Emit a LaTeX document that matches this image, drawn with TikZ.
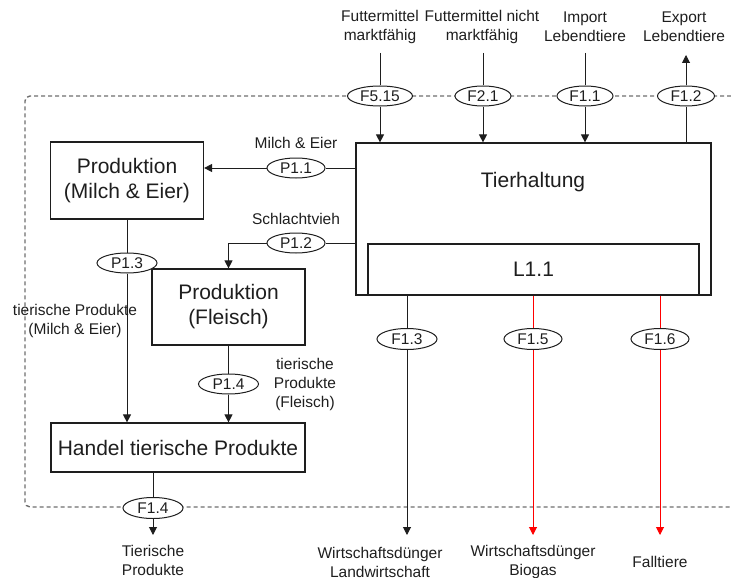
\documentclass[tikz,border=0pt]{standalone}
\usepackage{fontspec}
\setmainfont{Liberation Sans}
\usetikzlibrary{shapes.geometric,arrows.meta}

\definecolor{ink}{HTML}{1E1E1E}
\definecolor{bound}{HTML}{6E6E6E}
\newcommand{\boxfont}{\fontsize{21}{25}\selectfont}
\newcommand{\lblfont}{\fontsize{15.5}{19}\selectfont}

\begin{document}
\begin{tikzpicture}[x=1pt,y=-1pt,
  line/.style={draw=ink, line width=1pt},
  arr/.style={line, -{Triangle[length=8pt,width=8pt]}},
  redline/.style={draw=red, line width=1pt},
  redarr/.style={redline, -{Triangle[length=8pt,width=8pt]}},
  box/.style={draw=ink, line width=1.2pt, fill=white, inner sep=0pt,
    align=center, font=\boxfont, text=ink},
  flow/.style={ellipse, draw=ink, line width=1pt, fill=white, inner sep=0pt,
    minimum width=58pt, minimum height=20pt, font=\lblfont, text=ink},
  lab/.style={align=center, font=\lblfont, inner sep=0pt, text=ink},
  boundary/.style={draw=bound, line width=1.4pt, dash pattern=on 4pt off 3pt,
    rounded corners=5pt},
]
\useasboundingbox (0,0) rectangle (731,578);

% system boundary
\draw[boundary] (731,96) -- (25,96) -- (25,507) -- (731,507);

% processes
\node[box, minimum width=153pt, minimum height=77pt] (milch) at (127,180.5)
  {Produktion\\(Milch \& Eier)};
\node[box, minimum width=153pt, minimum height=76pt] (fleisch) at (228.5,307)
  {Produktion\\(Fleisch)};
\node[box, minimum width=254pt, minimum height=49pt] (handel) at (178,447.5)
  {Handel tierische Produkte};
\node[box, minimum width=355pt, minimum height=152pt] (tier) at (533.5,219) {};
\node[font=\boxfont, text=ink, inner sep=0pt] (tiertext) at (533,182) {Tierhaltung};
\node[box, minimum width=331pt, minimum height=51pt] (lager) at (533.5,269.5) {L1.1};

% flows across the boundary (top)
\node[flow, minimum width=65pt] (f515) at (380,96) {F5.15};
\node[flow, minimum width=56pt] (f21) at (483,96) {F2.1};
\node[flow, minimum width=56pt] (f11) at (585,96) {F1.1};
\node[flow, minimum width=57pt] (f12) at (686,96) {F1.2};

\node[lab] (t1) at (380,27) {Futtermittel\\marktfähig};
\node[lab] (t2) at (482,27) {Futtermittel nicht\\marktfähig};
\node[lab] (t3) at (585,27) {Import\\Lebendtiere};
\node[lab] (t4) at (684,27) {Export\\Lebendtiere};

\coordinate (in1) at (380,53);
\coordinate (in2) at (483,53);
\coordinate (in3) at (585,53);
\coordinate (out12) at (686,55);

\draw[line] (in1) -- (f515);
\draw[arr] (f515) -- (f515 |- tier.north);
\draw[line] (in2) -- (f21);
\draw[arr] (f21) -- (f21 |- tier.north);
\draw[line] (in3) -- (f11);
\draw[arr] (f11) -- (f11 |- tier.north);
\draw[line] (f12 |- tier.north) -- (f12);
\draw[arr] (f12) -- (out12);

% internal flows
\node[flow] (p11) at (296,168) {P1.1};
\node[lab] (l11) at (296,143) {Milch \& Eier};
\node[flow] (p12) at (296,243) {P1.2};
\node[lab] (l12) at (296,219) {Schlachtvieh};
\node[flow, minimum width=60pt] (p13) at (127,263) {P1.3};
\node[lab] (l13) at (75,321) {tierische Produkte\\(Milch \& Eier)};
\node[flow, minimum width=60pt] (p14) at (228.5,384) {P1.4};
\node[lab] (l14) at (305,384) {tierische\\Produkte\\(Fleisch)};

\draw[line] (tier.west |- p11) -- (p11);
\draw[arr] (p11) -- (milch.east |- p11);
\draw[line] (tier.west |- p12) -- (p12);
\draw[arr] (p12.west) -| (fleisch.north);
\draw[line] (milch.south) -- (p13);
\draw[arr] (p13) -- (handel.north -| p13);
\draw[line] (fleisch.south) -- (p14);
\draw[arr] (p14) -- (handel.north -| p14);

% flows across the boundary (bottom)
\node[flow, minimum width=60pt, minimum height=21pt] (f14) at (153,508) {F1.4};
\node[flow, minimum width=60pt, minimum height=21pt] (f13) at (407,339) {F1.3};
\node[flow, minimum width=58pt, minimum height=21pt] (f15) at (533,339) {F1.5};
\node[flow, minimum width=58pt, minimum height=21pt] (f16) at (660,339) {F1.6};

\coordinate (out14) at (153,535);
\coordinate (out13) at (407,535);
\coordinate (out15) at (533,535);
\coordinate (out16) at (660,535);

\draw[line] (handel.south -| f14) -- (f14);
\draw[arr] (f14) -- (out14);
\draw[line] (tier.south -| f13) -- (f13);
\draw[arr] (f13) -- (out13);
\draw[redline] (tier.south -| f15) -- (f15);
\draw[redarr] (f15) -- (out15);
\draw[redline] (tier.south -| f16) -- (f16);
\draw[redarr] (f16) -- (out16);

\node[lab] (b1) at (153,560) {Tierische\\Produkte};
\node[lab] (b2) at (380,562) {Wirtschaftsdünger\\Landwirtschaft};
\node[lab] (b3) at (533,562) {Wirtschaftsdünger\\Biogas};
\node[lab] (b4) at (660,562) {Falltiere};
\end{tikzpicture}
\end{document}
